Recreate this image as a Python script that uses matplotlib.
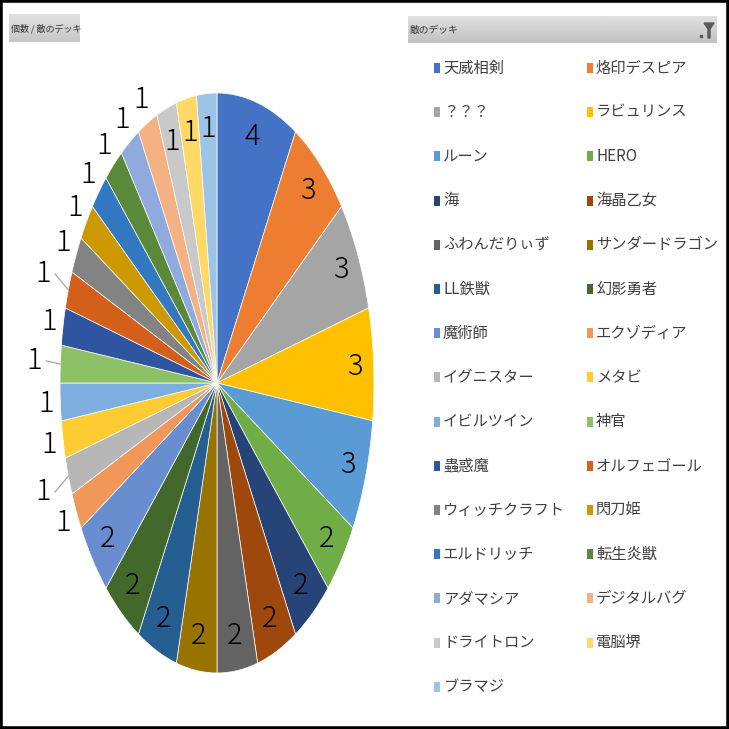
import numpy as np
import matplotlib
matplotlib.use("Agg")
import matplotlib.pyplot as plt
from matplotlib.patches import Rectangle, Polygon

plt.rcParams['font.family'] = ['Noto Sans CJK JP', 'DejaVu Sans']

# 敵のデッキ別の個数
decks = ['天威相剣', '烙印デスピア', '？？？', 'ラビュリンス', 'ルーン', 'HERO',
         '海', '海晶乙女', 'ふわんだりぃず', 'サンダードラゴン', 'LL鉄獣', '幻影勇者',
         '魔術師', 'エクゾディア', 'イグニスター', 'メタビ', 'イビルツイン', '神官',
         '蟲惑魔', 'オルフェゴール', 'ウィッチクラフト', '閃刀姫', 'エルドリッチ', '転生炎獣',
         'アダマシア', 'デジタルバグ', 'ドライトロン', '電脳堺', 'ブラマジ']
counts = [4, 3, 3, 3, 3, 2, 2, 2, 2, 2, 2, 2, 2,
          1, 1, 1, 1, 1, 1, 1, 1, 1, 1, 1, 1, 1, 1, 1, 1]

# Excel の既定カラー
colors = ['#4472C4', '#ED7D31', '#A5A5A5', '#FFC000', '#5B9BD5', '#70AD47',
          '#264478', '#9E480E', '#636363', '#997300', '#255E91', '#43682B',
          '#698ED0', '#F1975A', '#B7B7B7', '#FFCD33', '#7CAFDD', '#8CC168',
          '#2F54A0', '#D2601A', '#838383', '#CC9A00', '#3478C1', '#5A8A39',
          '#8FAADC', '#F4B183', '#C9C9C9', '#FFD966', '#9DC3E6']

W = H = 729
fig = plt.figure(figsize=(W / 100, H / 100), dpi=100)


def px(x, y):
    return x / W, 1 - y / H


# 円グラフ (横に潰れた楕円)
ax = fig.add_axes([60 / W, 56 / H, 314 / W, 580 / H])
wedges, _ = ax.pie(counts, colors=colors, startangle=90, counterclock=False,
                   wedgeprops=dict(edgecolor='white', linewidth=0.5))
ax.set_aspect('auto')
ax.set_xlim(-1, 1)
ax.set_ylim(-1, 1)

leader = {'イグニスター', '神官', 'オルフェゴール'}
inside_ones = {'ドライトロン', '電脳堺', 'ブラマジ'}
total = sum(counts)
cum = 0
for name, v in zip(decks, counts):
    mid = np.deg2rad(90 - (cum + v / 2) / total * 360)
    cum += v
    if v >= 2 or name in inside_ones:
        r = 0.88
    elif name in leader:
        r = 1.17
    else:
        r = 1.09
    ax.text(r * np.cos(mid), r * np.sin(mid), str(v), ha='center', va='center',
            fontsize=21, fontweight='light', color='black')
    if name in leader:
        ax.plot([1.09 * np.cos(mid), 1.0 * np.cos(mid)],
                [r * np.sin(mid), 1.0 * np.sin(mid)],
                color='#a6a6a6', lw=0.9, clip_on=False)

# 左上のフィールドボタン
bx = fig.add_axes([9 / W, 1 - 42 / H, 71 / W, 28 / H])
bx.imshow(np.linspace(0.88, 0.78, 20).reshape(-1, 1), cmap='gray', vmin=0, vmax=1,
          aspect='auto', extent=[0, 1, 0, 1])
bx.axis('off')
fig.text(*px(11, 29), '個数 / 敵のデッキ', fontsize=6.5, color='#333333', va='center')

# 凡例ヘッダー
hx = fig.add_axes([408 / W, 1 - 43 / H, 309 / W, 27 / H])
hx.imshow(np.linspace(0.88, 0.76, 20).reshape(-1, 1), cmap='gray', vmin=0, vmax=1,
          aspect='auto', extent=[0, 1, 0, 1])
hx.axis('off')
fig.text(*px(410, 30), '敵のデッキ', fontsize=7, color='#333333', va='center')
funnel = [(704, 23), (714, 23), (710, 29), (710, 38), (708, 38), (708, 29)]
fig.add_artist(Polygon([px(x, y) for x, y in funnel], closed=True,
                       transform=fig.transFigure, color='#5a5a5a'))
fig.add_artist(Rectangle(px(700, 37), 2 / W, 2 / H, transform=fig.transFigure,
                         color='#5a5a5a'))

# 凡例 (行優先で2列)
for i, (name, c) in enumerate(zip(decks, colors)):
    row, col = divmod(i, 2)
    x = 434 + col * 153
    y = 68 + row * 44.2
    fig.add_artist(Rectangle(px(x, y + 5), 6 / W, 10 / H, transform=fig.transFigure,
                             facecolor=c, edgecolor='none'))
    fig.text(*px(x + 9, y), name, fontsize=11, color='#404040', va='center')

# 外枠
fig.add_artist(Rectangle((0, 0), 1, 1, transform=fig.transFigure, fill=False,
                         edgecolor='black', linewidth=4))

fig.savefig('out.png', dpi=100)
